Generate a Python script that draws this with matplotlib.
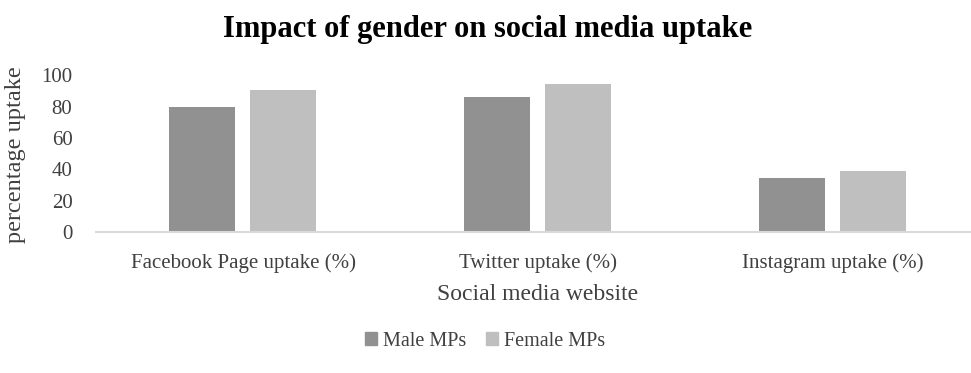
import numpy as np
import matplotlib.pyplot as plt
from matplotlib.patches import Patch

categories = ['Facebook Page uptake (%)', 'Twitter uptake (%)', 'Instagram uptake (%)']
male_vals = [80, 86, 34.5]
female_vals = [90.5, 94.5, 39]
series_names = ['Male MPs', 'Female MPs']
yticks = [0, 20, 40, 60, 80, 100]

male_col = '#919191'
female_col = '#bfbfbf'

plt.rcParams['font.family'] = ['Liberation Serif', 'DejaVu Serif']

fig = plt.figure(figsize=(9.71, 3.73), dpi=100)
ax = fig.add_axes([96 / 971, 1 - 232 / 373, 884 / 971, (232 - 75.5) / 373])

x = np.arange(len(categories))
w = 0.224
ax.bar(x - 0.139, male_vals, w, color=male_col)
ax.bar(x + 0.136, female_vals, w, color=female_col)

ax.set_xlim(-0.5, 2.5)
ax.set_ylim(0, 100)
ax.set_yticks(yticks)
ax.set_xticks(x)
ax.set_xticklabels(categories)
ax.tick_params(axis='both', length=0, labelsize=15, colors='#404040')
ax.tick_params(axis='x', pad=15)
ax.tick_params(axis='y', pad=17)

for s in ['top', 'right', 'left']:
    ax.spines[s].set_visible(False)
ax.spines['bottom'].set_color('#d9d9d9')
ax.spines['bottom'].set_linewidth(1.5)

ax.set_xlabel('Social media website', fontsize=17, color='#404040', labelpad=8)
fig.text(16 / 971, 1 - 155 / 373, 'percentage uptake', rotation=90, fontsize=17.5,
         color='#404040', ha='center', va='center')
fig.text(488 / 971, 1 - 30 / 373, 'Impact of gender on social media uptake',
         fontsize=22, fontweight='bold', color='#000000', ha='center', va='center')

handles = [Patch(color=male_col), Patch(color=female_col)]
fig.legend(handles, series_names, loc='center', bbox_to_anchor=(485 / 971, 1 - 341 / 373),
           ncol=2, frameon=False, fontsize=14.5, handlelength=0.6, handleheight=0.6,
           handletextpad=0.3, columnspacing=1.0, labelcolor='#404040')

fig.savefig('out.png', dpi=100)
